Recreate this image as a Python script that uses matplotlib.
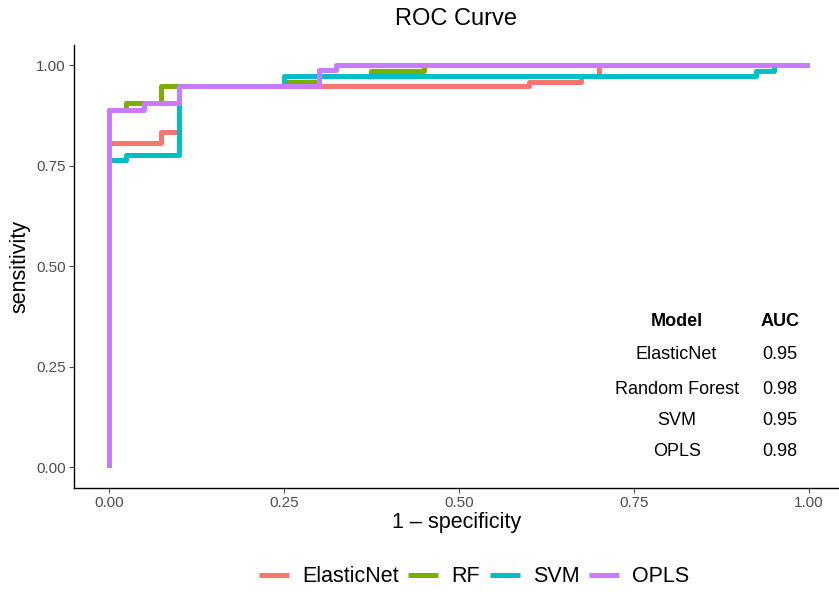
import matplotlib
matplotlib.use('Agg')
import matplotlib.pyplot as plt

plt.rcParams['font.family'] = ['Liberation Sans', 'DejaVu Sans']

# ROC curve corner points (1 - specificity, sensitivity)
models = ['ElasticNet', 'RF', 'SVM', 'OPLS']
colors = ['#F8766D', '#7CAE00', '#00BFC4', '#C77CFF']

enet_fpr = [0, 0, 0.075, 0.075, 0.1, 0.1, 0.6, 0.6, 0.675, 0.675, 0.7, 0.7, 1]
enet_tpr = [0, 0.805, 0.805, 0.834, 0.834, 0.947, 0.947, 0.958, 0.958, 0.973, 0.973, 1, 1]

rf_fpr = [0, 0, 0.025, 0.025, 0.075, 0.075, 0.25, 0.25, 0.3, 0.3, 0.375, 0.375, 0.45, 0.45, 1]
rf_tpr = [0, 0.888, 0.888, 0.905, 0.905, 0.947, 0.947, 0.958, 0.958, 0.973, 0.973, 0.986, 0.986, 1, 1]

svm_fpr = [0, 0, 0.025, 0.025, 0.1, 0.1, 0.25, 0.25, 0.925, 0.925, 0.95, 0.95, 1]
svm_tpr = [0, 0.765, 0.765, 0.776, 0.776, 0.947, 0.947, 0.973, 0.973, 0.986, 0.986, 1, 1]

opls_fpr = [0, 0, 0.05, 0.05, 0.1, 0.1, 0.3, 0.3, 0.325, 0.325, 1]
opls_tpr = [0, 0.888, 0.888, 0.905, 0.905, 0.947, 0.947, 0.988, 0.988, 1, 1]

# AUC table
table_models = ['ElasticNet', 'Random Forest', 'SVM', 'OPLS']
table_auc = ['0.95', '0.98', '0.95', '0.98']

ticks = [0.0, 0.25, 0.5, 0.75, 1.0]
tick_labels = ['0.00', '0.25', '0.50', '0.75', '1.00']


def main():
    fig = plt.figure(figsize=(8.39, 5.92), dpi=100)
    ax = fig.add_axes([74 / 839, 104 / 592, 1 - 74 / 839, (488 - 45) / 592])

    curves = [(enet_fpr, enet_tpr), (rf_fpr, rf_tpr), (svm_fpr, svm_tpr), (opls_fpr, opls_tpr)]
    for (fpr, tpr), name, col in zip(curves, models, colors):
        ax.plot(fpr, tpr, color=col, lw=3.6, label=name,
                solid_capstyle='butt', solid_joinstyle='round')

    ax.set_xlim(-0.05, (839 - 110) / 699)
    ax.set_ylim(-0.052, 1.05)
    ax.set_xticks(ticks)
    ax.set_xticklabels(tick_labels)
    ax.set_yticks(ticks)
    ax.set_yticklabels(tick_labels)
    ax.tick_params(labelsize=11, colors='#4D4D4D', length=3.5, width=0.8, pad=2.5)
    for s in ['top', 'right']:
        ax.spines[s].set_visible(False)
    for s in ['left', 'bottom']:
        ax.spines[s].set_linewidth(1.0)

    ax.set_xlabel('1 \u2013 specificity', fontsize=15.5, labelpad=1)
    ax.set_ylabel('sensitivity', fontsize=15.5, labelpad=4)
    fig.text((74 + 839) / 2 / 839, 1 - 19 / 592, 'ROC Curve', ha='center', va='center', fontsize=17)

    # table of AUC values
    col1_x, col2_x = 0.811, 0.958
    ax.text(col1_x, 0.361, 'Model', ha='center', va='center', fontsize=13, fontweight='bold')
    ax.text(col2_x, 0.361, 'AUC', ha='center', va='center', fontsize=13, fontweight='bold')
    row_y = [0.281, 0.194, 0.117, 0.040]
    for m, a, yy in zip(table_models, table_auc, row_y):
        ax.text(col1_x, yy, m, ha='center', va='center', fontsize=13)
        ax.text(col2_x, yy, a, ha='center', va='center', fontsize=13)

    fig.legend(loc='center', bbox_to_anchor=(474 / 839, 1 - 577 / 592), ncol=4, frameon=False,
               fontsize=15.5, handlelength=1.4, handletextpad=0.6, columnspacing=0.45)

    fig.savefig('out.png', dpi=100)


if __name__ == '__main__':
    main()
